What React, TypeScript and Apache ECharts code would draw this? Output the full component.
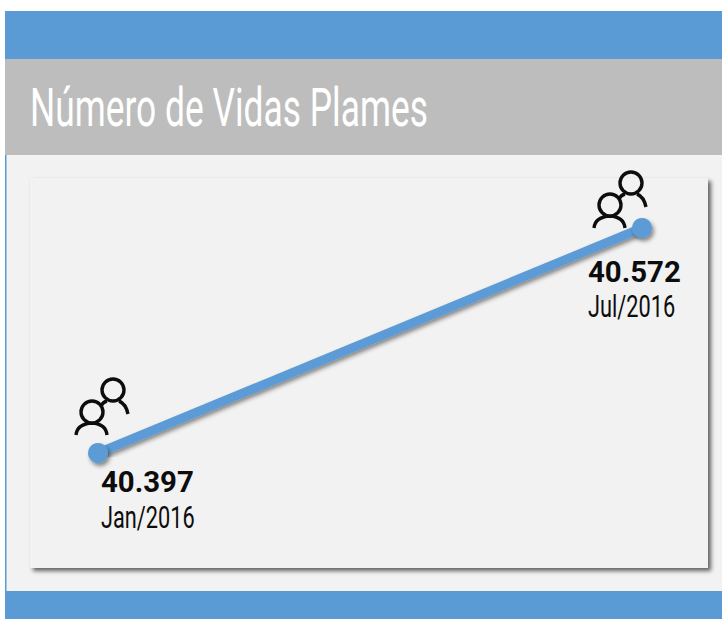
import React, { useEffect, useRef } from "react";
import * as echarts from "echarts";

const titleText = "Número de Vidas Plames";
const months = ["Jan/2016", "Jul/2016"];
const lives = [40397, 40572];
const liveLabels = ["40.397", "40.572"];

const BLUE = "#5b9bd5";
const INK = "#0d0d0d";
const FONT = "Roboto, sans-serif";
const PEOPLE =
  "path://M48 11A11 11 0 1 1 26 11A11 11 0 1 1 48 11ZM43 22Q50 25 52 35M25 27Q27 23 31 22M27 33A11 11 0 1 1 5 33A11 11 0 1 1 27 33ZM0 56Q1 45 16 44Q30 45 31 56";
const labelOffsets = [
  { dx: 3, num: 28.5, date: 64.5 },
  { dx: -54, num: 43.5, date: 78 },
];

export default function App() {
  const ref = useRef<HTMLDivElement>(null);
  useEffect(() => {
    document.body.style.margin = "0";
    const chart = echarts.init(ref.current!, null, { renderer: "svg" });
    chart.setOption({
      animation: false,
      backgroundColor: "#ffffff",
      grid: { left: 98, right: 80, top: 228, bottom: 166 },
      xAxis: { type: "category", data: months, boundaryGap: false, show: false },
      yAxis: { type: "value", min: lives[0], max: lives[1], show: false },
      graphic: [
        { type: "rect", z: 0, shape: { x: 5, y: 11, width: 717, height: 48 }, style: { fill: BLUE } },
        { type: "rect", z: 0, shape: { x: 5, y: 59, width: 717, height: 96 }, style: { fill: "#bdbdbd" } },
        { type: "rect", z: 0, shape: { x: 5, y: 155, width: 717, height: 436 }, style: { fill: "#f2f2f2" } },
        { type: "rect", z: 0, shape: { x: 5, y: 155, width: 1.5, height: 436 }, style: { fill: BLUE } },
        { type: "rect", z: 0, shape: { x: 5, y: 591, width: 717, height: 28 }, style: { fill: BLUE } },
        {
          type: "rect",
          z: 1,
          shape: { x: 30, y: 178, width: 678, height: 390 },
          style: { fill: "#f2f2f2", shadowColor: "rgba(0,0,0,0.6)", shadowBlur: 4, shadowOffsetX: 3, shadowOffsetY: 3 },
        },
        {
          type: "text",
          z: 2,
          x: 30,
          y: 108,
          scaleX: 0.655,
          style: {
            text: titleText,
            fill: "#ffffff",
            font: `normal 54px ${FONT}`,
            textAlign: "left",
            textVerticalAlign: "middle",
          },
        },
      ],
      series: [
        {
          type: "line",
          z: 3,
          data: lives,
          symbol: "circle",
          symbolSize: 20,
          showSymbol: true,
          itemStyle: { color: BLUE, shadowColor: "rgba(0,0,0,0.45)", shadowBlur: 4, shadowOffsetX: 2, shadowOffsetY: 3 },
          lineStyle: { color: BLUE, width: 9, shadowColor: "rgba(0,0,0,0.45)", shadowBlur: 4, shadowOffsetX: 1, shadowOffsetY: 3 },
        },
        {
          type: "scatter",
          z: 4,
          silent: true,
          symbol: PEOPLE,
          symbolSize: [52, 56],
          itemStyle: { color: "transparent", borderColor: INK, borderWidth: 3.5, opacity: 1 },
          data: [
            { value: [months[0], lives[0]], symbolOffset: [4, -46] },
            { value: [months[1], lives[1]], symbolOffset: [-22, -28] },
          ],
        },
        {
          type: "custom",
          z: 5,
          silent: true,
          data: months.map((m, i) => [m, lives[i]]),
          renderItem: (params: any, api: any) => {
            const i = params.dataIndex;
            const p = api.coord([months[i], lives[i]]);
            const o = labelOffsets[i];
            return {
              type: "group",
              children: [
                {
                  type: "text",
                  x: p[0] + o.dx,
                  y: p[1] + o.num,
                  scaleX: 0.98,
                  style: {
                    text: liveLabels[i],
                    fill: INK,
                    font: `bold 30px ${FONT}`,
                    textAlign: "left",
                    textVerticalAlign: "middle",
                  },
                },
                {
                  type: "text",
                  x: p[0] + o.dx,
                  y: p[1] + o.date,
                  scaleX: 0.68,
                  style: {
                    text: months[i],
                    fill: INK,
                    font: `normal 32px ${FONT}`,
                    textAlign: "left",
                    textVerticalAlign: "middle",
                  },
                },
              ],
            };
          },
        },
      ],
    });
    return () => chart.dispose();
  }, []);
  return <div ref={ref} style={{ width: 722, height: 619 }} />;
}
